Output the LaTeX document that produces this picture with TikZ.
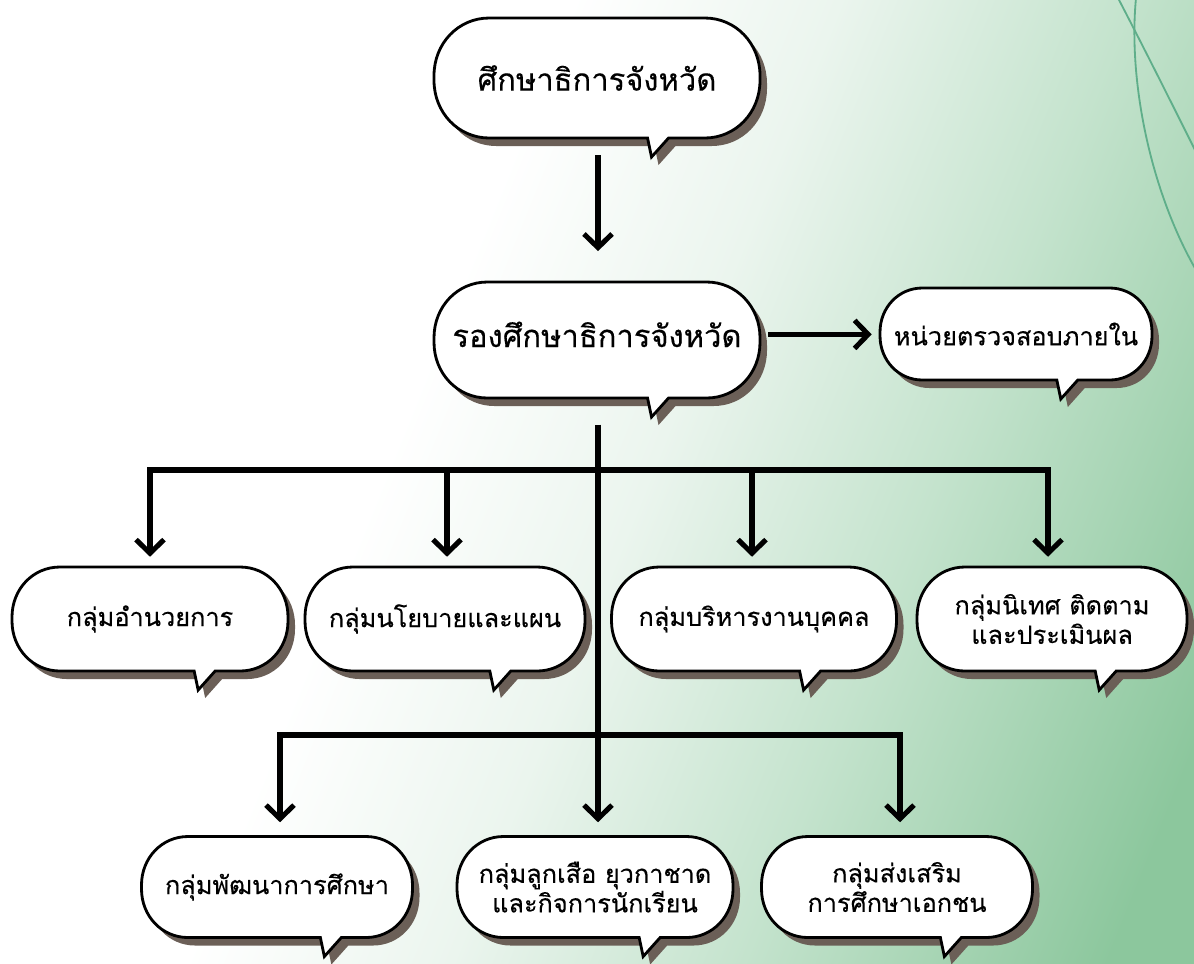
\documentclass[tikz,border=0pt]{standalone}
\usepackage{fontspec}
\newfontfamily\thaifont[Script=Thai, FakeBold=0.3]{Loma}
\usetikzlibrary{arrows.meta,calc}
\definecolor{shadowc}{HTML}{6B5F57}
\definecolor{curvec}{HTML}{5FAE8A}
\definecolor{bga}{HTML}{EBF5EE}
\definecolor{bgb}{HTML}{C4E3CD}
\definecolor{bgc}{HTML}{8CC79D}
\pgfdeclarehorizontalshading{bgsh}{100bp}{color(0bp)=(white); color(41bp)=(white); color(52bp)=(bga); color(64bp)=(bgb); color(79bp)=(bgc); color(100bp)=(bgc)}
\tikzset{
  conn/.style={line width=3.6pt},
  arr/.style={conn, line join=miter, -{Straight Barb[length=3.4mm,width=7mm]}},
  bigtxt/.style={font=\thaifont\fontsize{22}{25}\selectfont},
  smalltxt/.style={font=\thaifont\fontsize{18}{21}\selectfont},
}
\newcommand{\bubdraw}[3]{%
  \path[#1] (\bL+#2,\bT+#3+\bry)
    .. controls (\bL+#2,\bT+#3+\bry-\bc*\bry) and (\bL+#2+\brx-\bc*\brx,\bT+#3) .. (\bL+#2+\brx,\bT+#3)
    -- (\bR+#2-\brx,\bT+#3)
    .. controls (\bR+#2-\brx+\bc*\brx,\bT+#3) and (\bR+#2,\bT+#3+\bry-\bc*\bry) .. (\bR+#2,\bT+#3+\bry)
    -- (\bR+#2,\bB+#3-\bry)
    .. controls (\bR+#2,\bB+#3-\bry+\bc*\bry) and (\bR+#2-\brx+\bc*\brx,\bB+#3) .. (\bR+#2-\brx,\bB+#3)
    -- (\btx+#2+21,\bB+#3) -- (\btx+#2+4,\bB+#3+19) -- (\btx+#2,\bB+#3)
    -- (\bL+#2+\brx,\bB+#3)
    .. controls (\bL+#2+\brx-\bc*\brx,\bB+#3) and (\bL+#2,\bB+#3-\bry+\bc*\bry) .. (\bL+#2,\bB+#3-\bry)
    -- cycle;}
\newcommand{\mybubble}[8]{%
  \pgfmathsetmacro\bL{#2-#4/2}\pgfmathsetmacro\bR{#2+#4/2}%
  \pgfmathsetmacro\bT{#3-#5/2}\pgfmathsetmacro\bB{#3+#5/2}%
  \pgfmathsetmacro\brx{0.46*#5}\pgfmathsetmacro\bry{0.48*#5}%
  \pgfmathsetmacro\bc{0.56}%
  \pgfmathsetmacro\btx{\bL+#6*#4}%
  \pgfmathsetmacro\bw{#4*0.025}\pgfmathsetmacro\bh{#5*0.025}%
  \bubdraw{fill=shadowc}{7}{8}
  \bubdraw{fill=white,draw=black,line width=2pt,line join=miter}{0}{0}
  \node[#7, align=center, inner sep=0pt, minimum width=\bw cm, minimum height=\bh cm] (#1) at (#2,#3) {#8};
}
\begin{document}
\begin{tikzpicture}[x=0.025cm,y=-0.025cm]
\useasboundingbox (0,0) rectangle (1194,963);
\fill[white] (0,0) rectangle (1194,963);
\shade[shading=bgsh, shading angle=-22] (0,0) rectangle (1194,963);
% decorative curves
\draw[curvec, line width=1.3pt] (1118,-2) .. controls (1145,50) and (1170,100) .. (1196,152);
\draw[curvec, line width=1.3pt] (1136,-2) .. controls (1128,80) and (1150,190) .. (1196,270);

\mybubble{prov}{597}{78}{326}{120}{0.655}{bigtxt}{ศึกษาธิการจังหวัด}
\mybubble{dep}{597}{340}{326}{116}{0.655}{bigtxt, yshift=4pt}{รองศึกษาธิการจังหวัด}
\mybubble{audit}{1016}{334}{272}{92}{0.65}{smalltxt}{หน่วยตรวจสอบภายใน}

\mybubble{admin}{150}{619}{276}{104}{0.66}{smalltxt}{กลุ่มอำนวยการ}
\mybubble{policy}{445}{619}{280}{104}{0.66}{smalltxt}{กลุ่มนโยบายและแผน}
\mybubble{person}{754}{619}{285}{104}{0.66}{smalltxt}{กลุ่มบริหารงานบุคคล}
\mybubble{superv}{1052}{619}{270}{104}{0.66}{smalltxt}{กลุ่มนิเทศ ติดตาม\\และประเมินผล}

\mybubble{dev}{277}{887}{271}{101}{0.66}{smalltxt}{กลุ่มพัฒนาการศึกษา}
\mybubble{scout}{595}{887}{276}{101}{0.66}{smalltxt}{กลุ่มลูกเสือ ยุวกาชาด\\และกิจการนักเรียน}
\mybubble{priv}{897}{887}{271}{101}{0.66}{smalltxt}{กลุ่มส่งเสริม\\การศึกษาเอกชน}

\coordinate (bus1) at (598,470);
\coordinate (bus2) at (598,735);

\draw[arr] ($(prov.south)+(1,17)$) -- ($(dep.north)+(1,-25)$);
\draw[arr] ($(dep.east)+(8,0)$) -- ($(audit.west |- dep.east)+(-8,0)$);
\draw[conn] ($(dep.south)+(1,32)$) -- (bus2);
\draw[arr] (bus2) -- ($(scout.north)+(3,-14)$);

\draw[arr] (bus1) -- (admin.north |- bus1) -- ($(admin.north)+(0,-10)$);
\draw[arr] (bus1) -- ($(superv.north |- bus1)+(-4,0)$) -- ($(superv.north)+(-4,-10)$);
\draw[arr] ($(policy.north |- bus1)+(2,0)$) -- ($(policy.north)+(2,-10)$);
\draw[arr] ($(person.north |- bus1)+(-2,0)$) -- ($(person.north)+(-2,-10)$);

\draw[arr] (bus2) -- ($(dev.north |- bus2)+(3,0)$) -- ($(dev.north)+(3,-14)$);
\draw[arr] (bus2) -- ($(priv.north |- bus2)+(3,0)$) -- ($(priv.north)+(3,-14)$);
\end{tikzpicture}
\end{document}
